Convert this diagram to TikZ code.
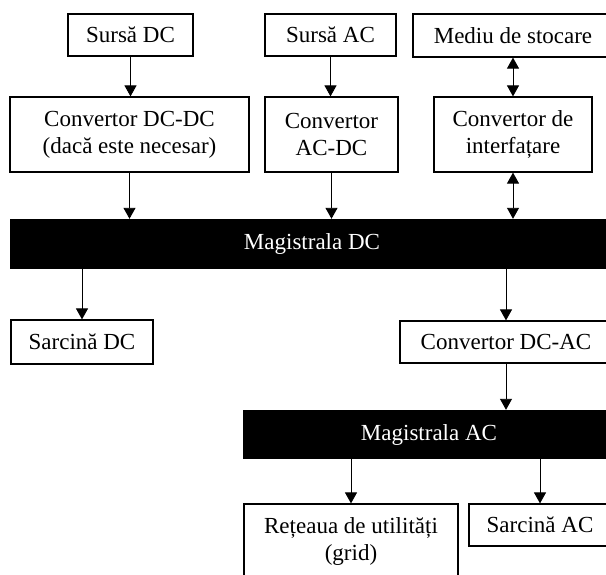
\documentclass[tikz,border=0pt]{standalone}
\usepackage{fontspec}
\setmainfont{Liberation Serif}
\usetikzlibrary{arrows.meta}

\tikzset{
  box/.style={draw=black, line width=1.2pt, fill=white, inner sep=0pt, align=center,
              font=\fontsize{23}{27}\selectfont},
  bus/.style={fill=black, text=white, inner sep=0pt, align=center,
              font=\fontsize{23}{27}\selectfont},
  flow/.style={line width=0.9pt, -{Triangle[width=12pt,length=11pt]}},
  twoway/.style={line width=0.9pt, {Triangle[width=12pt,length=11pt]}-{Triangle[width=12pt,length=11pt]}}
}

\begin{document}
\begin{tikzpicture}[x=1pt,y=-1pt]
  \useasboundingbox (0,0) rectangle (606,574);
  \clip (0,0) rectangle (606,574);
  \fill[white] (0,0) rectangle (606,574);

  % sources and storage
  \node[box, minimum width=125pt, minimum height=42pt] (sdc) at (130.5,35) {Sursă DC};
  \node[box, minimum width=131pt, minimum height=42pt] (sac) at (330.5,35) {Sursă AC};
  \node[box, minimum width=200pt, minimum height=43pt] (med) at (513,35.5) {Mediu de stocare};

  % converters feeding the DC bus
  \node[box, minimum width=239pt, minimum height=75pt] (dcdc) at (129.5,134.5) {Convertor DC-DC\\(dacă este necesar)};
  \node[box, minimum width=133pt, minimum height=75pt] (acdc) at (331.5,134.5) {Convertor\\AC-DC};
  \node[box, minimum width=158pt, minimum height=75pt] (intf) at (513,134.5) {Convertor de\\interfațare};

  % DC bus
  \node[bus, minimum width=604pt, minimum height=50pt] (dcbus) at (312,244) {Magistrala DC};

  % DC side loads and inverter
  \node[box, minimum width=142pt, minimum height=44pt] (sdcl) at (82,342) {Sarcină DC};
  \node[box, minimum width=212pt, minimum height=42pt] (dcac) at (506,342) {Convertor DC-AC};

  % AC bus
  \node[bus, minimum width=372pt, minimum height=49pt] (acbus) at (429,434.5) {Magistrala AC};

  % AC side
  \node[box, minimum width=214pt, minimum height=75pt] (grid) at (351,541.5) {Rețeaua de utilități\\(grid)};
  \node[box, minimum width=142pt, minimum height=42pt] (sacl) at (540,525) {Sarcină AC};

  % connections
  \draw[flow] (sdc.south) -- (sdc.south |- dcdc.north);
  \draw[flow] (sac.south) -- (sac.south |- acdc.north);
  \draw[twoway] (med.south) -- (intf.north);
  \draw[flow] (dcdc.south) -- (dcdc.south |- dcbus.north);
  \draw[flow] (acdc.south) -- (acdc.south |- dcbus.north);
  \draw[twoway] (intf.south) -- (intf.south |- dcbus.north);
  \draw[flow] (sdcl.north |- dcbus.south) -- (sdcl.north);
  \draw[flow] (dcac.north |- dcbus.south) -- (dcac.north);
  \draw[flow] (dcac.south) -- (dcac.south |- acbus.north);
  \draw[flow] (grid.north |- acbus.south) -- (grid.north);
  \draw[flow] (sacl.north |- acbus.south) -- (sacl.north);
\end{tikzpicture}
\end{document}
